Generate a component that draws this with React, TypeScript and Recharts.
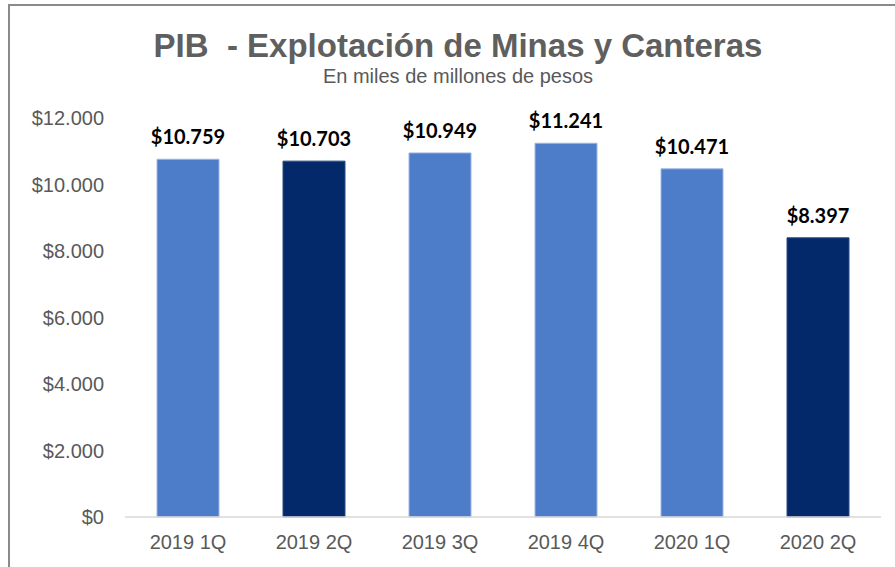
import React from 'react';
import { BarChart, Bar, XAxis, YAxis, Cell, LabelList } from 'recharts';

const quarters = ['2019 1Q', '2019 2Q', '2019 3Q', '2019 4Q', '2020 1Q', '2020 2Q'];
const pibValues = [10759, 10703, 10949, 11241, 10471, 8397];
const barColors = ['#4D7CC9', '#03296B', '#4D7CC9', '#4D7CC9', '#4D7CC9', '#03296B'];
const yTicks = [0, 2000, 4000, 6000, 8000, 10000, 12000];

const chartData = quarters.map((q, i) => ({ name: q, value: pibValues[i] }));

const fmt = (v: number) => '$' + v.toString().replace(/\B(?=(\d{3})+(?!\d))/g, '.');

const axisFont = '"Liberation Sans", Arial, sans-serif';

export default function App() {
  return (
    <div style={{ position: 'absolute', left: 0, top: 0, width: 895, height: 567, overflow: 'hidden', background: '#fff' }}>
      {/* frame: only top and left edges are visible in the crop */}
      <div
        style={{
          position: 'absolute', left: 8, top: 4, width: 900, height: 600,
          borderTop: '2px solid #8a8a8a', borderLeft: '2px solid #8a8a8a', boxSizing: 'border-box',
        }}
      />
      <div
        style={{
          position: 'absolute', left: 0, top: 29, width: 916, textAlign: 'center',
          fontFamily: axisFont, fontWeight: 700, fontSize: 33,
          lineHeight: '33px', color: '#5f5f5f', whiteSpace: 'pre',
        }}
      >
        PIB  - Explotación de Minas y Canteras
      </div>
      <div
        style={{
          position: 'absolute', left: 0, top: 66, width: 916, textAlign: 'center',
          fontFamily: axisFont, fontSize: 20, lineHeight: '20px', color: '#595959',
        }}
      >
        En miles de millones de pesos
      </div>
      <div style={{ position: 'absolute', left: 0, top: 0 }}>
        <BarChart
          width={895}
          height={567}
          data={chartData}
          margin={{ top: 118, right: 14, bottom: 20, left: 25 }}
        >
          <XAxis
            dataKey="name"
            height={30}
            axisLine={{ stroke: '#d9d9d9', strokeWidth: 1.5 }}
            tickLine={false}
            tickSize={0}
            tickMargin={18}
            tick={{ fill: '#595959', fontSize: 20, fontFamily: axisFont }}
          />
          <YAxis
            width={100}
            domain={[0, 12000]}
            ticks={yTicks}
            axisLine={false}
            tickLine={false}
            tickSize={0}
            tickMargin={21}
            tickFormatter={fmt}
            tick={{ fill: '#595959', fontSize: 20, fontFamily: axisFont }}
          />
          <Bar dataKey="value" barSize={62} isAnimationActive={false}>
            {chartData.map((d, i) => (
              <Cell key={d.name} fill={barColors[i]} stroke={barColors[i] === '#4D7CC9' ? '#9db7e3' : '#2a4a85'} strokeWidth={1} />
            ))}
            <LabelList
              dataKey="value"
              position="top"
              offset={15}
              formatter={(v: any) => fmt(Number(v))}
              style={{ fill: '#000', fontSize: 20, fontWeight: 700, fontFamily: 'Lato, sans-serif' }}
            />
          </Bar>
        </BarChart>
      </div>
    </div>
  );
}
